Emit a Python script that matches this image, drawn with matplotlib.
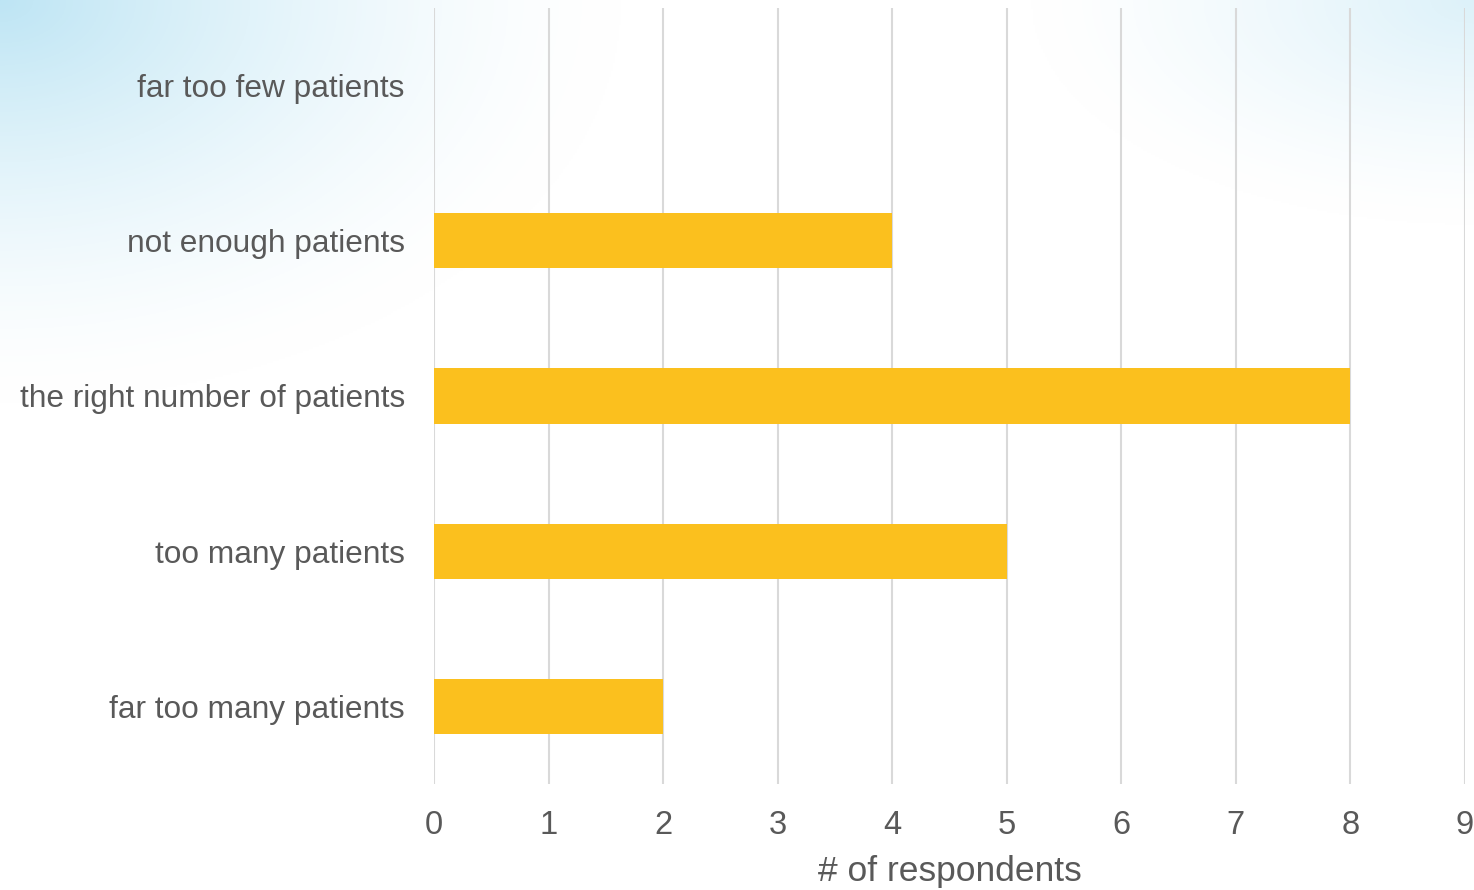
import numpy as np
import matplotlib.pyplot as plt

# data
categories = ["far too few patients", "not enough patients",
              "the right number of patients", "too many patients",
              "far too many patients"]
respondents = [0, 4, 8, 5, 2]
x_ticks = [0, 1, 2, 3, 4, 5, 6, 7, 8, 9]

plt.rcParams["font.family"] = ["Liberation Sans", "DejaVu Sans"]
TEXT = "#595959"

fig = plt.figure(figsize=(14.74, 8.90), dpi=100)

# soft blue background wash (top-left and top-right corners)
bg = fig.add_axes([0, 0, 1, 1], zorder=-1)
h, w = 445, 737
yy, xx = np.mgrid[0:h, 0:w]
yy = yy / h
xx = xx / w
d1 = np.sqrt((xx / 0.42) ** 2 + (yy / 0.45) ** 2)
d2 = np.sqrt(((1 - xx) / 0.30) ** 2 + (yy / 0.25) ** 2)
a = np.clip(1 - d1, 0, 1) ** 1.5 * 0.85 + np.clip(1 - d2, 0, 1) ** 1.3 * 0.45
a = np.clip(a, 0, 1)[..., None]
blue = np.array([0.70, 0.88, 0.95])
img = (1 - a) * np.ones(3) + a * blue
bg.imshow(img, aspect="auto", extent=[0, 1, 0, 1], origin="upper")
bg.axis("off")

ax = fig.add_axes([0.2944, 0.1191, 0.6995, 0.872])
ax.patch.set_alpha(0)
y = np.arange(len(categories))
ax.barh(y, respondents, height=0.355, color="#FBC01E", zorder=3)
ax.set_ylim(len(categories) - 0.5, -0.5)
ax.set_xlim(0, 9)
ax.set_xticks(x_ticks)
ax.set_yticks(y)
ax.set_yticklabels(categories)
ax.xaxis.grid(True, color="#D9D9D9", linewidth=1.5, zorder=0)
ax.set_axisbelow(True)
for s in ax.spines.values():
    s.set_visible(False)
ax.tick_params(axis="both", length=0, colors=TEXT)
ax.tick_params(axis="x", labelsize=23.5, pad=19)
ax.tick_params(axis="y", labelsize=22.8, pad=21)
ax.set_xlabel("# of respondents", fontsize=25.5, color=TEXT, labelpad=10)

fig.savefig("out.png", dpi=100)
